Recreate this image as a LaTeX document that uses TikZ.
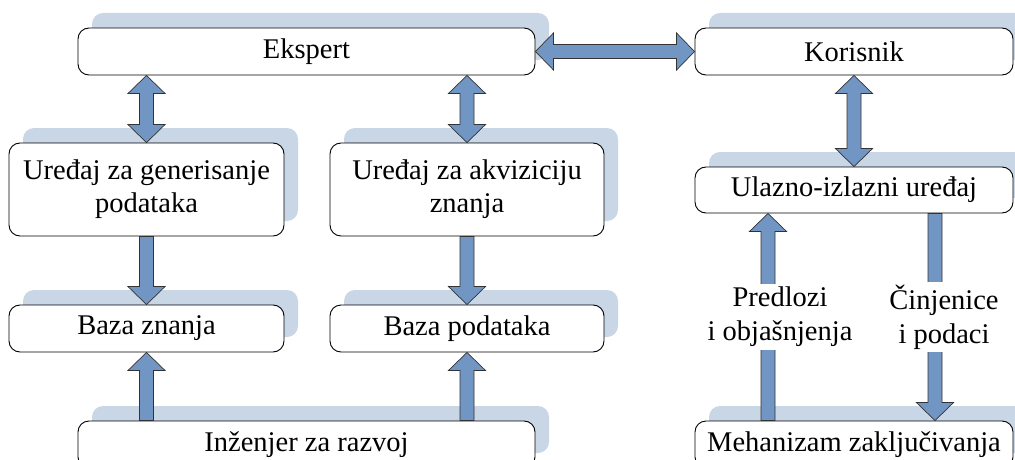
\documentclass[tikz,border=0pt]{standalone}
\usepackage{fontspec}
\setmainfont{Liberation Serif}
\newfontfamily\tnr{Liberation Serif}
\usetikzlibrary{calc,shadows}
\definecolor{arrowblue}{HTML}{7296C4}
\definecolor{shadowblue}{HTML}{C8D6E6}
\def\ah{18}
\def\aH{18.5}
\def\aw{7}
\newcommand\sarrow[2]{\draw[barrow] let \p1=($(#2)-(#1)$), \n1={veclen(\x1,\y1)}, \n2={atan2(\y1,\x1)} in [shift={(#1)},rotate=\n2] (0,-\aw) -- (\n1-\ah,-\aw) -- (\n1-\ah,-\aH) -- (\n1,0) -- (\n1-\ah,\aH) -- (\n1-\ah,\aw) -- (0,\aw) -- cycle;}
\newcommand\darrow[2]{\draw[barrow] let \p1=($(#2)-(#1)$), \n1={veclen(\x1,\y1)}, \n2={atan2(\y1,\x1)} in [shift={(#1)},rotate=\n2] (0,0) -- (\ah,\aH) -- (\ah,\aw) -- (\n1-\ah,\aw) -- (\n1-\ah,\aH) -- (\n1,0) -- (\n1-\ah,-\aH) -- (\n1-\ah,-\aw) -- (\ah,-\aw) -- (\ah,-\aH) -- cycle;}
\tikzset{
  box/.style={draw=black, line width=0.9pt, fill=white, rounded corners=11pt, inner sep=0pt,
    align=center, font=\tnr\fontsize{28.5}{33}\selectfont,
    general shadow={fill=shadowblue, draw=none, shadow xshift=14pt, shadow yshift=15pt}},
  barrow/.style={draw=black!80, line width=0.7pt, fill=arrowblue, line join=miter},
  lbl/.style={fill=white, inner sep=3pt, align=center, font=\tnr\fontsize{28.5}{34}\selectfont}
}
\begin{document}
\begin{tikzpicture}[x=1pt,y=1pt]
\useasboundingbox (0,0) rectangle (1015,-460);
\clip (0,0) rectangle (1015,-460);
\node[box, minimum width=457, minimum height=47] (ek) at (306.5,-51.5) {Ekspert};
\node[box, minimum width=318, minimum height=47] (ko) at (854,-51.5) {Korisnik};
\node[box, minimum width=275, minimum height=93] (ug) at (146.5,-189.5) {Uređaj za generisanje\\podataka};
\node[box, minimum width=274, minimum height=93] (ua) at (467,-189.5) {Uređaj za akviziciju\\znanja};
\node[box, minimum width=275, minimum height=47] (bz) at (146.5,-328.5) {Baza znanja};
\node[box, minimum width=274, minimum height=47] (bp) at (467,-328.5) {Baza podataka};
\node[box, minimum width=457, minimum height=47] (in) at (306.5,-444.5) {Inženjer za razvoj};
\node[box, minimum width=318, minimum height=46] (ui) at (854,-190) {Ulazno-izlazni uređaj};
\node[box, minimum width=318, minimum height=47] (me) at (854,-444.5) {Mehanizam zaključivanja};
\coordinate (pl) at ($(ui.south)+(-86,0)$);
\coordinate (pr) at ($(ui.south)+(81,0)$);
\darrow{ek.east}{ko.west}
\darrow{ek.south -| ug.north}{ug.north}
\darrow{ek.south -| ua.north}{ua.north}
\darrow{ko.south}{ui.north}
\sarrow{ug.south}{bz.north}
\sarrow{ua.south}{bp.north}
\sarrow{in.north -| bz.south}{bz.south}
\sarrow{in.north -| bp.south}{bp.south}
\sarrow{me.north -| pl}{pl}
\sarrow{pr}{me.north -| pr}
\node[lbl] (lp) at (780,-317) {Predlozi\\i objašnjenja};
\node[lbl] (lc) at (944,-317) {Činjenice\\i podaci};
\end{tikzpicture}
\end{document}
